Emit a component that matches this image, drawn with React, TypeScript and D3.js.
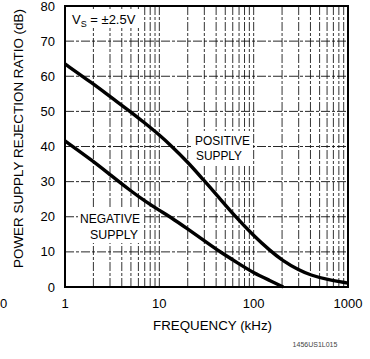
import React from "react";
import * as d3 from "d3";

const posFreq = [1, 2, 3, 4.9, 7, 10, 13, 20, 30, 40, 63, 100, 150, 200, 300, 400, 600, 1000];
const posDb = [63.5, 57.8, 54.2, 50, 46.7, 43.3, 40.5, 35.6, 30.2, 26.4, 20.2, 14.6, 10.3, 7.6, 4.8, 3.4, 2.1, 1.1];
const negFreq = [1, 2, 3, 5, 7, 10, 13, 20, 30, 44, 70, 100, 150, 206];
const negDb = [41.6, 35.8, 32, 27.3, 24.5, 21.8, 20, 16.5, 13.2, 10, 6.6, 4, 1.8, 0];
const yTicks = [0, 10, 20, 30, 40, 50, 60, 70, 80];
const xTicks = [1, 10, 100, 1000];
const xTickLabels = ["1", "10", "100", "1000"];

const W = 370, H = 359;
const L = 65, R = 348, T = 6, B = 287;
const FONT = "'Liberation Sans Narrow', 'Arial Narrow', 'Liberation Sans', Arial, sans-serif";

export default function App() {
  const x = d3.scaleLog().domain([1, 1000]).range([L, R]);
  const y = d3.scaleLinear().domain([0, 80]).range([B, T]);
  const minor: number[] = [];
  [1, 10, 100].forEach((d) => {
    for (let k = 2; k <= 9; k++) minor.push(d * k);
  });
  minor.push(10, 100);
  const line = d3
    .line<[number, number]>()
    .x((d) => x(d[0]))
    .y((d) => y(d[1]))
    .curve(d3.curveBasis);
  const pos = posFreq.map((f, i) => [f, posDb[i]] as [number, number]);
  const neg = negFreq.map((f, i) => [f, negDb[i]] as [number, number]);

  return (
    <svg
      width={W}
      height={H}
      style={{ position: "absolute", left: 0, top: 0, background: "#fff" }}
      fontFamily={FONT}
    >
      <rect x={0} y={0} width={W} height={H} fill="#fff" />
      {minor.map((f, i) => (
        <line key={"v" + i} x1={x(f)} x2={x(f)} y1={T} y2={B} stroke="#111" strokeWidth={1} strokeDasharray="9 2 3 2" opacity={0.85} />
      ))}
      {yTicks.slice(1, -1).map((v) => (
        <line key={"h" + v} x1={L} x2={R} y1={y(v)} y2={y(v)} stroke="#111" strokeWidth={1} strokeDasharray="9 2 3 2" opacity={0.9} />
      ))}
      {/* label backgrounds */}
      <rect x={68} y={9} width={72} height={19} fill="#fff" />
      <rect x={193} y={131} width={60} height={33} fill="#fff" />
      <rect x={78} y={209} width={65} height={34} fill="#fff" />
      <path d={line(pos) || ""} fill="none" stroke="#000" strokeWidth={3.4} />
      <path d={line(neg) || ""} fill="none" stroke="#000" strokeWidth={3.4} />
      <rect x={L} y={T} width={R - L} height={B - T} fill="none" stroke="#000" strokeWidth={2} />
      {yTicks.map((v) => (
        <text key={"yt" + v} x={55} y={y(v)} dy="0.35em" textAnchor="end" fontSize={13} fill="#000">
          {v}
        </text>
      ))}
      {xTicks.map((v, i) => (
        <text key={"xt" + v} x={x(v)} y={308} textAnchor="middle" fontSize={13} fill="#000">
          {xTickLabels[i]}
        </text>
      ))}
      <text x={0} y={308} textAnchor="start" fontSize={13} fill="#000">0</text>
      <text x={153} y={330} fontSize={12} fill="#000" textLength={119} lengthAdjust="spacingAndGlyphs">FREQUENCY (kHz)</text>
      <text transform={`translate(23,268) rotate(-90)`} textAnchor="start" fontSize={12} fill="#000" textLength={259} lengthAdjust="spacingAndGlyphs">
        POWER SUPPLY REJECTION RATIO (dB)
      </text>
      <text x={72} y={24} fontSize={13} fill="#000">
        V<tspan fontSize={9} dy={3}>S</tspan>
        <tspan dy={-3}> = ±2.5V</tspan>
      </text>
      <text x={195} y={145} fontSize={12} fill="#000" textLength={55} lengthAdjust="spacingAndGlyphs">POSITIVE</text>
      <text x={196} y={160} fontSize={12} fill="#000" textLength={46} lengthAdjust="spacingAndGlyphs">SUPPLY</text>
      <text x={80} y={223} fontSize={12} fill="#000" textLength={60} lengthAdjust="spacingAndGlyphs">NEGATIVE</text>
      <text x={90} y={239} fontSize={12} fill="#000" textLength={48} lengthAdjust="spacingAndGlyphs">SUPPLY</text>
      <text x={315} y={347} textAnchor="middle" fontSize={7} fill="#444">1456US1L015</text>
    </svg>
  );
}
